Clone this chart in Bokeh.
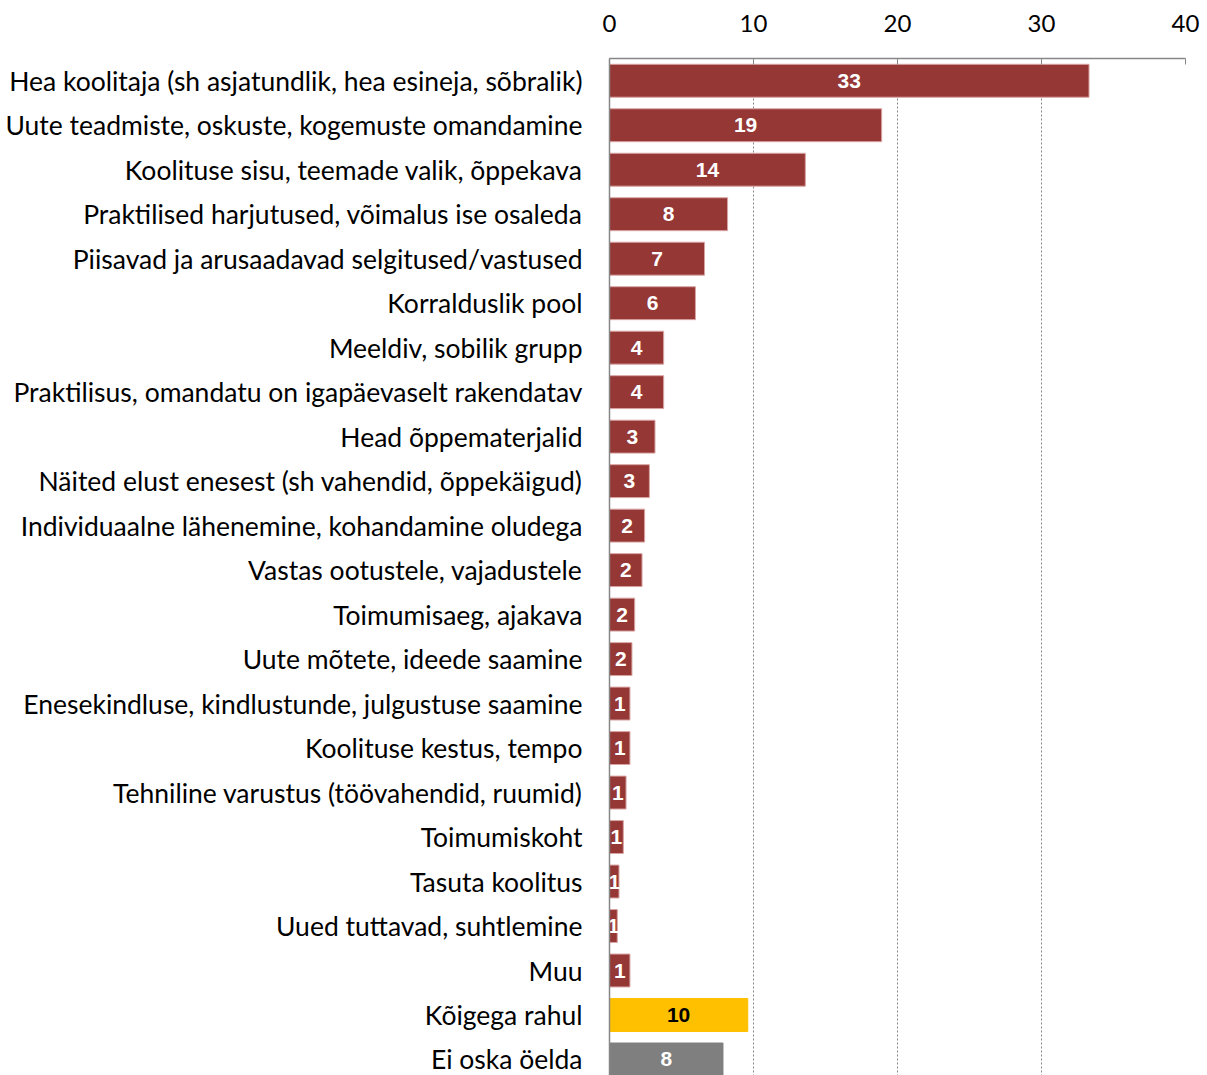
from bokeh.plotting import figure
from bokeh.models import ColumnDataSource, Range1d, FixedTicker
from bokeh.embed import file_html
from bokeh.resources import INLINE
from bokeh.core.properties import value

categories = [
    "Hea koolitaja (sh asjatundlik, hea esineja, sõbralik)",
    "Uute teadmiste, oskuste, kogemuste omandamine",
    "Koolituse sisu, teemade valik, õppekava",
    "Praktilised harjutused, võimalus ise osaleda",
    "Piisavad ja arusaadavad selgitused/vastused",
    "Korralduslik pool",
    "Meeldiv, sobilik grupp",
    "Praktilisus, omandatu on igapäevaselt rakendatav",
    "Head õppematerjalid",
    "Näited elust enesest (sh vahendid, õppekäigud)",
    "Individuaalne lähenemine, kohandamine oludega",
    "Vastas ootustele, vajadustele",
    "Toimumisaeg, ajakava",
    "Uute mõtete, ideede saamine",
    "Enesekindluse, kindlustunde, julgustuse saamine",
    "Koolituse kestus, tempo",
    "Tehniline varustus (töövahendid, ruumid)",
    "Toimumiskoht",
    "Tasuta koolitus",
    "Uued tuttavad, suhtlemine",
    "Muu",
    "Kõigega rahul",
    "Ei oska öelda",
]
values = [33.3, 18.9, 13.6, 8.2, 6.6, 5.97, 3.76, 3.76, 3.16, 2.77, 2.44, 2.26,
          1.75, 1.56, 1.42, 1.42, 1.15, 0.96, 0.66, 0.54, 1.42, 9.6, 7.88]
x_ticks = [0, 10, 20, 30, 40]

RED, YELLOW, GRAY = "#953735", "#FFC000", "#7F7F7F"
n = len(categories)
colors = [RED] * (n - 2) + [YELLOW, GRAY]
text_colors = ["white"] * (n - 2) + ["black", "white"]

idx = list(range(n))
src = ColumnDataSource(dict(
    y=idx,
    v=values,
    mid=[v / 2 for v in values],
    lab=[str(int(round(v))) for v in values],
    fill=colors,
    tc=text_colors,
    edge=["#d9a5a4"] * (n - 2) + [YELLOW, GRAY],
))

p = figure(width=1207, height=1075, output_backend="svg", toolbar_location=None,
           x_axis_location="above",
           x_range=Range1d(0, 40), y_range=Range1d(n - 1 + 0.36, -0.5),
           min_border_left=609, min_border_right=22, min_border_top=58,
           min_border_bottom=0)
p.outline_line_color = None

p.hbar(y="y", left=0, right="v", height=0.74, fill_color="fill",
       line_color="edge", line_width=1, source=src)
p.text(x="mid", y="y", text="lab", text_color="tc", text_align="center",
       text_baseline="middle", text_font=value("Liberation Sans"),
       text_font_style="bold", text_font_size="21px", source=src)

xa = p.xaxis[0]
xa.ticker = FixedTicker(ticks=x_ticks)
xa.axis_line_color = "#868686"
xa.axis_line_width = 1.5
xa.major_tick_line_color = "#868686"
xa.major_tick_in = 6
xa.major_tick_out = 0
xa.minor_tick_line_color = None
xa.major_label_text_font = "Lato"
xa.major_label_text_font_size = "24px"
xa.major_label_text_color = "#000000"
xa.major_label_standoff = 27

ya = p.yaxis[0]
ya.ticker = FixedTicker(ticks=idx)
ya.major_label_overrides = {i: c for i, c in enumerate(categories)}
ya.axis_line_color = "#868686"
ya.axis_line_width = 1.5
ya.major_tick_line_color = None
ya.major_tick_in = 0
ya.major_tick_out = 0
ya.minor_tick_line_color = None
ya.major_label_text_font = "Lato"
ya.major_label_text_font_size = "26.5px"
ya.major_label_text_color = "#000000"
ya.major_label_standoff = 27

p.xgrid.ticker = FixedTicker(ticks=x_ticks)
p.xgrid.grid_line_color = "#868686"
p.xgrid.grid_line_dash = "2 2"
p.xgrid.grid_line_width = 1
p.ygrid.grid_line_color = None

open("out.html", "w").write(file_html(p, INLINE))
